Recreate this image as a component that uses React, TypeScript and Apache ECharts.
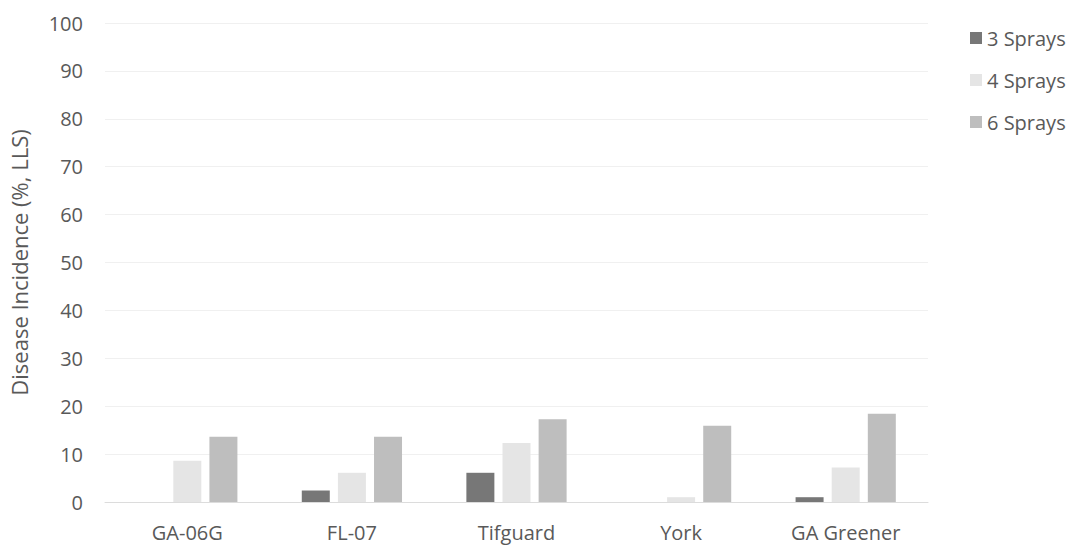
import React, { useEffect, useRef } from "react";
import * as echarts from "echarts";

const categories = ["GA-06G", "FL-07", "Tifguard", "York", "GA Greener"];
const sprays3 = [0, 2.4, 6.1, 0, 1.0];
const sprays4 = [8.6, 6.1, 12.3, 1.0, 7.2];
const sprays6 = [13.6, 13.6, 17.3, 15.9, 18.4];
const seriesNames = ["3 Sprays", "4 Sprays", "6 Sprays"];
const colors = ["#777777", "#e5e5e5", "#bebebe"];

const FONT = "Open Sans";

export default function App() {
  const ref = useRef<HTMLDivElement>(null);
  useEffect(() => {
    if (!ref.current) return;
    const chart = echarts.init(ref.current, null, { renderer: "svg" });
    const data = [sprays3, sprays4, sprays6];
    chart.setOption({
      animation: false,
      textStyle: { fontFamily: FONT },
      grid: { left: 103, right: 147, top: 23, bottom: 44 },
      legend: {
        orient: "vertical",
        left: 965,
        top: 23,
        itemWidth: 12,
        itemHeight: 12,
        itemGap: 22,
        icon: "rect",
        textStyle: { fontFamily: FONT, fontSize: 20, color: "#595959" },
        data: seriesNames,
      },
      xAxis: {
        type: "category",
        data: categories,
        axisLine: { lineStyle: { color: "#dcdcdc" } },
        axisTick: { show: false },
        axisLabel: { fontFamily: FONT, fontSize: 20, color: "#595959", margin: 20 },
      },
      yAxis: {
        type: "value",
        min: 0,
        max: 100,
        interval: 10,
        name: "Disease Incidence (%, LLS)",
        nameLocation: "middle",
        nameGap: 75,
        nameTextStyle: { fontFamily: FONT, fontSize: 22, color: "#595959" },
        axisLine: { show: false },
        axisTick: { show: false },
        axisLabel: { fontFamily: FONT, fontSize: 20, color: "#595959", margin: 22 },
        splitLine: { lineStyle: { color: "#f0f0f0" } },
      },
      series: seriesNames.map((n, i) => ({
        name: n,
        type: "bar",
        data: data[i],
        barWidth: 28,
        barGap: "29%",
        itemStyle: { color: colors[i] },
      })),
    });
    return () => chart.dispose();
  }, []);
  return (
    <div
      ref={ref}
      style={{ position: "fixed", left: 0, top: 0, width: 1075, height: 546, background: "#fff" }}
    />
  );
}
